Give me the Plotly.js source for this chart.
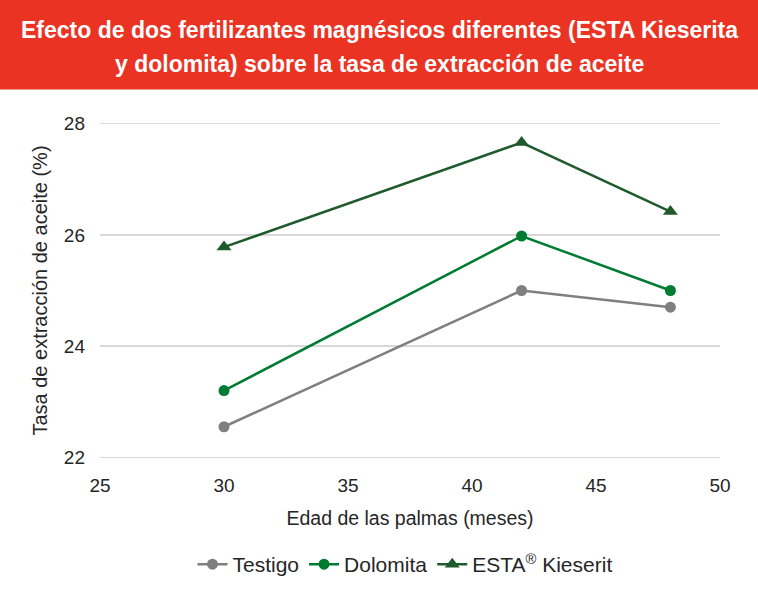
<!DOCTYPE html>
<html>
<head>
<meta charset="utf-8">
<script src="https://cdn.plot.ly/plotly-3.0.1.min.js"></script>
<style>html,body{margin:0;padding:0;background:#fff;}#chart{width:758px;height:600px;}</style>
</head>
<body>
<div id="chart"></div>
<script>
const ages = [30, 42, 48];
const testigo = [22.55, 25.0, 24.7];
const dolomita = [23.2, 25.98, 25.0];
const kieserit = [25.78, 27.66, 26.42];
const seriesNames = ["Testigo", "Dolomita", "ESTA<sup>®</sup> Kieserit"];
const titleLines = ["Efecto de dos fertilizantes magnésicos diferentes (ESTA Kieserita", "y dolomita) sobre la tasa de extracción de aceite"];
const xTitle = "Edad de las palmas (meses)";
const yTitle = "Tasa de extracción de aceite (%)";

const font = "Liberation Sans, Arial, sans-serif";
const W = 758, H = 600, L = 100, R = 38;
const yLo = 21.97, yHi = 28.03;
const unitPx = 333 / 6;
const T = 124 - (yHi - 28) * unitPx;
const B = 600 - 457 - (22 - yLo) * unitPx;
const pw = W - L - R, ph = H - T - B;
const px = x => (x - L) / pw;
const py = y => (H - B - y) / ph;

const traces = [
  {x: ages, y: testigo, name: seriesNames[0], mode: "lines+markers", line: {color: "#7f7f7f", width: 2.5}, marker: {symbol: "circle", size: 11, color: "#7f7f7f"}},
  {x: ages, y: dolomita, name: seriesNames[1], mode: "lines+markers", line: {color: "#007b32", width: 2.5}, marker: {symbol: "circle", size: 11, color: "#007b32"}},
  {x: ages, y: kieserit, name: seriesNames[2], mode: "lines+markers", line: {color: "#1f5a2c", width: 2.5}, marker: {symbol: "triangle-up", size: 13, color: "#1f5a2c"}}
];

const layout = {
  width: W, height: H,
  margin: {l: L, r: R, t: T, b: B, pad: 0},
  paper_bgcolor: "#ffffff", plot_bgcolor: "#ffffff",
  font: {family: font, color: "#262626", size: 19},
  showlegend: true,
  legend: {orientation: "h", x: px(405), xanchor: "center", y: py(564), yanchor: "middle", font: {size: 21, color: "#262626"}, itemwidth: 30},
  xaxis: {range: [25, 50], dtick: 5, tick0: 25, showgrid: false, zeroline: false, showline: false, ticks: "", ticklabelstandoff: 13,
          tickfont: {size: 19, color: "#262626"},
          title: {text: xTitle, font: {size: 19.5, color: "#262626"}, standoff: 16}, fixedrange: true},
  yaxis: {range: [yLo, yHi], dtick: 2, tick0: 22, showgrid: true, gridcolor: "#d9d9d9", gridwidth: 1.5, zeroline: false, showline: false, ticks: "", ticklabelstandoff: 14,
          tickfont: {size: 19, color: "#262626"},
          title: {text: yTitle, font: {size: 20, color: "#262626"}, standoff: 10}, fixedrange: true},
  shapes: [{type: "rect", xref: "paper", yref: "paper", x0: px(0), x1: px(W), y0: py(90), y1: py(0), fillcolor: "#eb3323", line: {width: 0}, layer: "below"}],
  annotations: [
    {text: "<b>" + titleLines[0] + "</b>", xref: "paper", yref: "paper", x: px(379), y: py(31), xanchor: "center", yanchor: "middle", showarrow: false, font: {family: font, size: 23, color: "#ffffff"}},
    {text: "<b>" + titleLines[1] + "</b>", xref: "paper", yref: "paper", x: px(379), y: py(64), xanchor: "center", yanchor: "middle", showarrow: false, font: {family: font, size: 23, color: "#ffffff"}}
  ]
};

Plotly.newPlot("chart", traces, layout, {displayModeBar: false, staticPlot: true});
</script>
</body>
</html>
